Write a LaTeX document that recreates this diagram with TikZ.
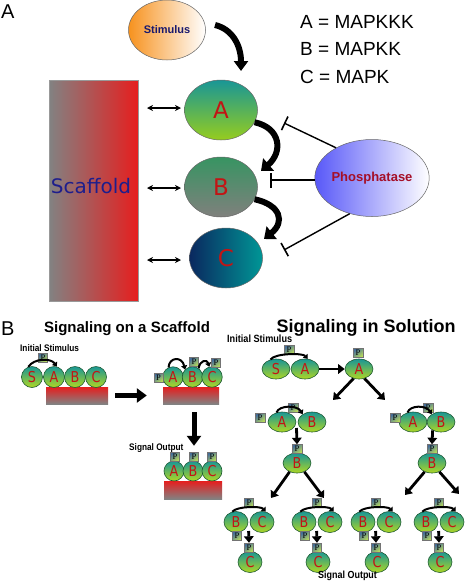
\documentclass[tikz,border=0pt]{standalone}
\usepackage{fontspec}
\setmainfont{Liberation Sans}
\newfontfamily\dejavu{DejaVu Sans}
\newfontfamily\dejan[FakeStretch=0.85]{DejaVu Sans}
\newfontfamily\narrowb[FakeStretch=0.87]{Liberation Sans Bold}
\newfontfamily\pserif{Liberation Serif}
\usetikzlibrary{shapes.geometric,arrows.meta}
\definecolor{stimO}{RGB}{247,146,30}
\definecolor{stimT}{RGB}{25,25,110}
\definecolor{aTop}{RGB}{25,150,150}
\definecolor{aBot}{RGB}{150,205,30}
\definecolor{bTop}{RGB}{55,148,98}
\definecolor{bBot}{RGB}{128,128,125}
\definecolor{cLeft}{RGB}{10,40,95}
\definecolor{cRight}{RGB}{0,150,150}
\definecolor{phL}{RGB}{88,88,248}
\definecolor{phT}{RGB}{165,15,40}
\definecolor{scG}{RGB}{130,130,130}
\definecolor{scR}{RGB}{230,30,30}
\definecolor{scT}{RGB}{30,30,140}
\definecolor{letR}{RGB}{195,20,20}
\definecolor{smTop}{RGB}{25,150,150}
\definecolor{smBot}{RGB}{175,215,35}
\definecolor{smEdge}{RGB}{30,90,50}
\definecolor{pDark}{RGB}{70,110,155}
\definecolor{pLight}{RGB}{185,220,90}
\tikzset{
 bigell/.style={ellipse, draw=black!60, line width=0.5pt, minimum width=73pt, minimum height=60pt, inner sep=0pt},
 biglet/.style={font=\dejavu\fontsize{23}{23}\selectfont, text=letR},
 sc/.style={circle, draw=smEdge, line width=0.6pt, minimum size=21pt, inner sep=0pt, top color=smTop, bottom color=smBot, font=\dejan\fontsize{15}{15}\selectfont, text=letR},
 se/.style={ellipse, draw=smEdge, line width=0.6pt, minimum width=28pt, minimum height=20pt, inner sep=0pt, top color=smTop, bottom color=smBot, font=\dejan\fontsize{15}{15}\selectfont, text=letR},
 sg/.style={se, minimum width=24pt, minimum height=21pt},
 pbox/.style={rectangle, draw=black!55, line width=0.4pt, minimum width=9pt, minimum height=9pt, inner sep=0pt, top color=pDark, bottom color=pLight, shading angle=40, font=\pserif\fontsize{8.5}{8.5}\selectfont, text=black},
 sbar/.style={rectangle, top color=scR, bottom color=scG, draw=none, inner sep=0pt, minimum height=17pt},
 blockarr/.style={line width=6pt, -{Triangle[length=10pt,width=16pt]}},
 bigarr/.style={line width=5pt, -{Triangle[length=10pt,width=14pt]}},
 tarr/.style={line width=2.8pt, -{Triangle[length=6.5pt,width=9.5pt]}},
 arcarr/.style={line width=2pt, -{Triangle[length=4pt,width=6pt]}},
 inh/.style={line width=1.4pt, -{Bar[width=15pt,line width=1.6pt]}},
 dbl/.style={line width=1.4pt, {Stealth[length=6pt,width=6pt]}-{Stealth[length=6pt,width=6pt]}},
 lbl/.style={anchor=base west, inner sep=0pt},
}
\begin{document}
\begin{tikzpicture}[x=1pt,y=-1pt]
\useasboundingbox (0,0) rectangle (464,582);
% ---------------- Part A
\node[lbl, font=\fontsize{20}{20}\selectfont] (Alab) at (1,18) {A};
\node[lbl, font=\fontsize{19}{19}\selectfont] (l1) at (300,28) {A = MAPKKK};
\node[lbl, font=\fontsize{19}{19}\selectfont] (l2) at (300,55) {B = MAPKK};
\node[lbl, font=\fontsize{19}{19}\selectfont] (l3) at (300,83) {C = MAPK};
\node[bigell, minimum width=77pt, left color=stimO, right color=white, font=\bfseries\fontsize{11}{11}\selectfont, text=stimT] (stim) at (167,30) {Stimulus};
\node[rectangle, minimum width=89pt, minimum height=221pt, left color=scG, right color=scR, draw=black!40, line width=0.4pt, inner sep=0pt] (scaf) at (93.5,190.5) {};
\node[font=\dejavu\fontsize{20}{20}\selectfont, text=scT, inner sep=0pt] (scaftxt) at (91,186) {Scaffold};
\node[bigell, top color=aTop, bottom color=aBot, biglet] (A) at (221,110) {A};
\node[bigell, top color=bTop, bottom color=bBot, biglet] (B) at (221,187) {B};
\node[bigell, left color=cLeft, right color=cRight, biglet] (C) at (226,258) {C};
\node[ellipse, draw=black!60, line width=0.5pt, minimum width=101pt, minimum height=77pt, inner sep=0pt, left color=phL, right color=white, font=\bfseries\fontsize{13}{13}\selectfont, text=phT] (ph) at (372,178) {Phosphatase};
% double arrows
\coordinate (da1) at (147,108); \coordinate (db1) at (181,108);
\coordinate (da2) at (147,188); \coordinate (db2) at (181,188);
\coordinate (da3) at (147,260); \coordinate (db3) at (181,260);
\draw[dbl] (da1) -- (db1);
\draw[dbl] (da2) -- (db2);
\draw[dbl] (da3) -- (db3);
% block arrows
\coordinate (s1) at (215,25); \coordinate (s2) at (241,71);
\draw[line width=6pt, -{Triangle[length=10pt,width=14pt]}] (s1) .. controls (232,29) and (241,45) .. (s2);
\coordinate (abE) at (261,171);
\draw[blockarr] (A.-20) .. controls (281,128) and (283,152) .. (abE);
\coordinate (bcE) at (264,239);
\draw[blockarr] (B.-20) .. controls (281,205) and (285,222) .. (bcE);
% inhibition
\coordinate (i1) at (284,123);
\coordinate (i2) at (270,180);
\coordinate (i3) at (284,250);
\draw[inh] (ph.140) -- (i1);
\draw[inh] (ph.west |- i2) -- (i2);
\draw[inh] (ph.-122) -- (i3);
% ---------------- Part B
\node[lbl, font=\fontsize{20}{20}\selectfont] (Blab) at (1,335) {B};
\node[anchor=base, inner sep=0pt, font=\bfseries\fontsize{15}{15}\selectfont] (t1) at (127,332) {Signaling on a Scaffold};
\node[anchor=base, inner sep=0pt, font=\bfseries\fontsize{18}{18}\selectfont] (t2) at (366,332) {Signaling in Solution};
% panel 1
\node[lbl, font=\narrowb\fontsize{9.5}{9.5}\selectfont] (is1) at (20,351) {Initial Stimulus};
\node[sbar, minimum width=62pt] (bar1) at (77,395.5) {};
\node[sc] (S1) at (32,377) {S};
\node[sc] (A1) at (54,377) {A};
\node[sc] (B1) at (75,377) {B};
\node[sc] (C1) at (96,377) {C};
\node[pbox] (p1) at (43,357.5) {P};
\draw[arcarr] (S1.110) .. controls (34,358) and (51,358) .. (A1.75);
% panel 2
\node[sbar, minimum width=56pt] (bar2) at (191,395.5) {};
\node[sc, minimum size=20.5pt] (A2) at (173,377) {A};
\node[sc, minimum size=20.5pt] (B2) at (192.5,377) {B};
\node[sc, minimum size=20.5pt] (C2) at (212,377) {C};
\node[pbox] (pA2) at (158.5,378) {P};
\node[pbox] (pB2) at (194,362) {P};
\node[pbox] (pC2) at (216,363) {P};
\draw[arcarr] (A2.115) .. controls (169,357) and (182,356) .. (B2.135);
\draw[arcarr] (B2.55) .. controls (200,360) and (207,359) .. (C2.105);
\draw[bigarr, shorten <=7pt, shorten >=16pt] (bar1.east) -- (bar2.west);
% panel 3
\node[sbar, minimum width=58pt, minimum height=18pt] (bar3) at (193,490) {};
\node[sc, minimum size=20pt] (A3) at (174,471) {A};
\node[sc, minimum size=20pt] (B3) at (193,471) {B};
\node[sc, minimum size=20pt] (C3) at (212,471) {C};
\node[pbox] (pA3) at (175,456.5) {P};
\node[pbox] (pB3) at (194,456.5) {P};
\node[pbox] (pC3) at (212,456.5) {P};
\draw[bigarr, shorten <=8pt, shorten >=6pt] (bar2.south -| pB3) -- (pB3.north);
\node[lbl, font=\narrowb\fontsize{9.5}{9.5}\selectfont] (so1) at (129,450) {Signal Output};
% ---------------- solution
\node[lbl, font=\narrowb\fontsize{10.5}{10.5}\selectfont] (is2) at (227,342.5) {Initial Stimulus};
\node[se] (S4) at (276,369) {S};
\node[se] (A4) at (305,369) {A};
\node[pbox, minimum width=10pt] (p4) at (289,350) {P};
\draw[arcarr] (S4.120) .. controls (275,353) and (303,353) .. (A4.75);
\node[se] (A5) at (359,369) {A};
\node[pbox, minimum width=10pt] (p5) at (358,353) {P};
\draw[tarr] (A4.east) -- (A5.west);
\coordinate (f1) at (333,400);
\coordinate (f2) at (385,400);
\draw[tarr] (A5.-120) -- (f1);
\draw[tarr] (A5.-60) -- (f2);
% AB pairs
\node[se] (A6) at (282,422) {A};
\node[se] (B6) at (312,422) {B};
\node[pbox, minimum width=10pt] (pA6) at (260,418) {P};
\node[pbox, minimum width=10pt] (pB6) at (293,408) {P};
\draw[arcarr] (A6.120) .. controls (279,405) and (297,405) .. (B6.140);
\node[se] (A7) at (413,422) {A};
\node[se] (B7) at (441,422) {B};
\node[pbox, minimum width=10pt] (pA7) at (395,418) {P};
\node[pbox, minimum width=10pt] (pB7) at (428,408) {P};
\draw[arcarr] (A7.120) .. controls (410,405) and (426,405) .. (B7.140);
% B'
\node[se] (B8) at (297,463) {B};
\node[pbox, minimum width=10pt] (pB8) at (297,449) {P};
\node[se] (B9) at (432,463) {B};
\node[pbox, minimum width=10pt] (pB9) at (432,449) {P};
\draw[tarr, shorten <=6pt] (A6.east) -- (pB8.north);
\draw[tarr] (B7.-135) -- (pB9.north);
\coordinate (e1) at (271,498);
\coordinate (e2) at (324,498);
\coordinate (e3) at (405,495);
\coordinate (e4) at (459,494);
\draw[tarr] (B8.-130) -- (e1);
\draw[tarr] (B8.-50) -- (e2);
\draw[tarr] (B9.-130) -- (e3);
\draw[tarr] (B9.-50) -- (e4);
% BC groups
\foreach \j/\n in {249/1,317/2,376/3,439/4}{
  \node[sg] (Bg\n) at (\j-13,522) {B};
  \node[sg] (Cg\n) at (\j+13,522) {C};
  \node[pbox] (pT\n) at (\j,502.5) {P};
  \node[pbox] (pL\n) at (\j-12,536) {P};
  \node[sg] (Cp\n) at (\j+1,562) {C};
  \node[pbox] (pC\n) at (\j,547.5) {P};
  \draw[arcarr] (Bg\n.110) .. controls (\j-12,506) and (\j+12,506) .. (Cg\n.70);
  \draw[tarr, shorten <=9pt] (Bg\n.east) -- (pC\n.north);
}
\node[lbl, font=\narrowb\fontsize{10.3}{10.3}\selectfont] (so2) at (318,578) {Signal Output};
\end{tikzpicture}
\end{document}
